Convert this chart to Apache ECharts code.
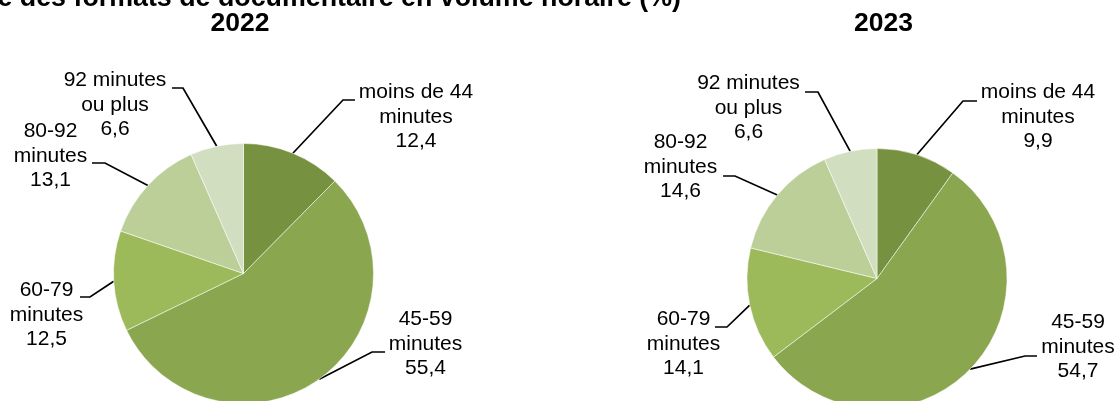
<!DOCTYPE html>
<html><head><meta charset="utf-8">
<script src="https://cdn.jsdelivr.net/npm/echarts@6/dist/echarts.min.js"></script>
<style>html,body{margin:0;padding:0;background:#fff}#c{width:1115px;height:401px}</style>
</head><body><div id="c"></div>
<script>
// ---- data ----
const categories = ["moins de 44\nminutes", "45-59\nminutes", "60-79\nminutes", "80-92\nminutes", "92 minutes\nou plus"];
const values2022 = [12.4, 55.4, 12.5, 13.1, 6.6];
const values2023 = [9.9, 54.7, 14.1, 14.6, 6.6];
const years = ["2022", "2023"];
const titleText = "Structure des formats de documentaire en volume horaire (%)";

// ---- styles / layout ----
const colors = ['#76913F', '#8AA64E', '#9CBA5A', '#BCCF99', '#D2DEC0'];
const FONT = "'Liberation Sans', Arial, sans-serif";
// per label: [textCenterX, textCenterY, stubEndX, stubY, kneeX]
const labelPlace = [
  [[416, 117, 355, 100, 343], [425.5, 344, 385, 352, 372], [46.5, 315, 80, 297, 90], [50.5, 156, 92, 163, 105], [115, 105, 172, 88, 183]],
  [[1038, 117, 977, 101, 963], [1078, 347, 1037, 356, 1025], [683.5, 344, 715, 327, 727], [680.5, 167, 723, 176, 735], [748.5, 108, 805, 92, 818]]
];
const pieCenters = [[243.5, 273.5], [877, 278.5]];

function fmt(v) { return v.toFixed(1).replace('.', ','); }

function makeSeries(idx, values) {
  return {
    type: 'pie', left: 0, top: 0, width: 1115, height: 401,
    center: pieCenters[idx], radius: 130, startAngle: 90, clockwise: true,
    avoidLabelOverlap: false, silent: true, animation: false,
    itemStyle: { borderColor: 'rgba(255,255,255,0.85)', borderWidth: 0.6 },
    label: {
      show: true, position: 'outside',
      formatter: p => p.name + '\n' + fmt(p.value),
      color: '#000', fontSize: 21, lineHeight: 24.5, fontFamily: FONT
    },
    labelLine: { show: true, lineStyle: { color: '#000', width: 1.7 } },
    labelLayout: function (params) {
      const c = labelPlace[idx][params.dataIndex];
      const pts = params.labelLinePoints;
      const res = { x: c[0], y: c[1], align: 'center', verticalAlign: 'middle' };
      if (pts && pts[0]) {
        res.labelLinePoints = [pts[0], [c[4], c[3]], [c[2], c[3]]];
      }
      return res;
    },
    data: categories.map((n, i) => ({ name: n, value: values[i], itemStyle: { color: colors[i] } }))
  };
}

const chart = echarts.init(document.getElementById('c'), null, { renderer: 'canvas' });
chart.setOption({
  backgroundColor: '#fff',
  animation: false,
  graphic: [
    { type: 'text', x: 681, y: -1, style: { text: titleText, fontSize: 26.8, fontWeight: 'bold', fontFamily: FONT, align: 'right', verticalAlign: 'middle', fill: '#000' } },
    { type: 'text', x: 240, y: 23.5, style: { text: years[0], fontSize: 26.5, fontWeight: 'bold', fontFamily: FONT, align: 'center', verticalAlign: 'middle', fill: '#000' } },
    { type: 'text', x: 883.5, y: 23.5, style: { text: years[1], fontSize: 26.5, fontWeight: 'bold', fontFamily: FONT, align: 'center', verticalAlign: 'middle', fill: '#000' } }
  ],
  series: [makeSeries(0, values2022), makeSeries(1, values2023)]
});
</script>
</body></html>
